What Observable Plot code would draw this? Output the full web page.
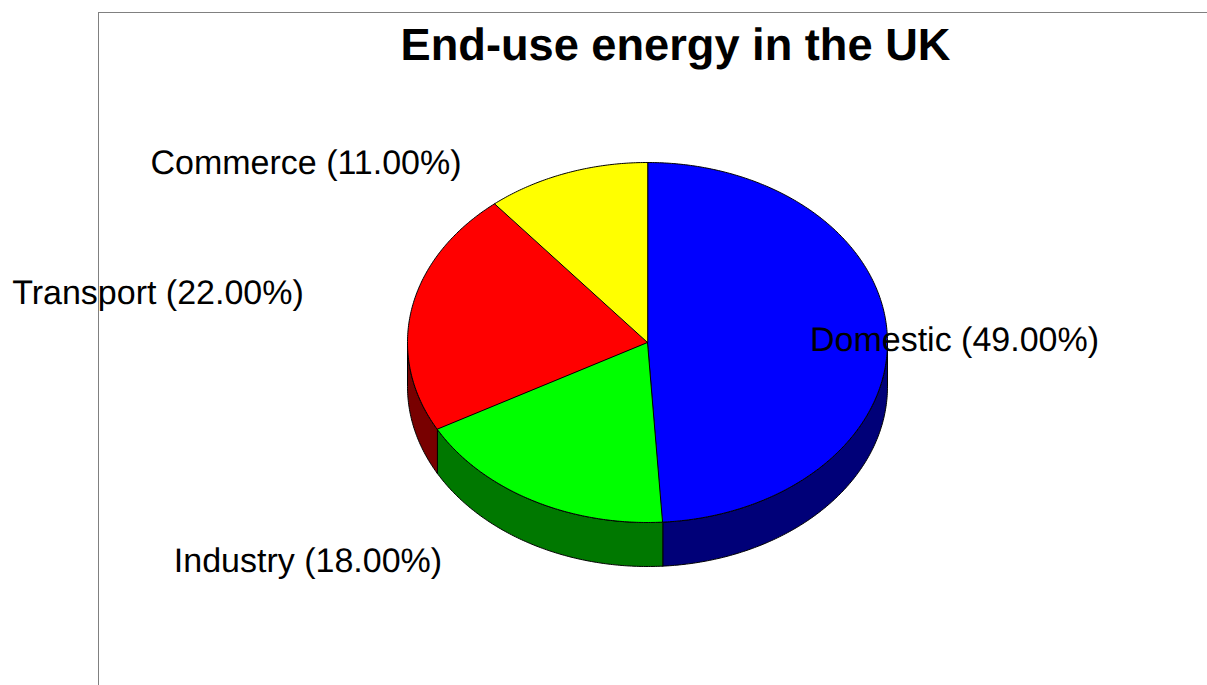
<!DOCTYPE html>
<html><head><meta charset="utf-8">
<script src="https://cdn.jsdelivr.net/npm/d3@7"></script>
<script src="https://cdn.jsdelivr.net/npm/@observablehq/plot@0.6"></script>
<style>
html,body{margin:0;padding:0;background:#fff;overflow:hidden}
#wrap{position:relative;width:1207px;height:685px;text-rendering:geometricPrecision}
#title{position:absolute;left:0;width:1351px;top:18px;text-align:center;font:bold 45.2px "Liberation Sans",Arial,sans-serif;line-height:54px;color:#000}
svg text{text-rendering:geometricPrecision}
</style></head><body>
<div id="wrap"><div id="title"></div><div id="chart"></div></div>
<script>
const chartTitle = "End-use energy in the UK";
const categories = ["Domestic","Industry","Transport","Commerce"];
const shares = [49,18,22,11];
const topColors = ["#0000ff","#00ff00","#ff0000","#ffff00"];
const sideColors = ["#000078","#007800","#780000","#787800"];

// pie geometry, in page pixels
const W = 1207, H = 685, cx = 647, cy = 342, rx = 240, ry = 180, depth = 44;
const labelAnchors = [[954,339.5],[307.5,561],[157.5,293],[305.5,162.5]];

document.getElementById("title").textContent = chartTitle;

const total = d3.sum(shares);
const pt = (a, dy = 0) => ({x: cx + rx*Math.sin(a), y: cy - ry*Math.cos(a) + dy});
let acc = 0;
const slices = categories.map((name,i) => {
  const a0 = acc/total*2*Math.PI; acc += shares[i];
  const a1 = acc/total*2*Math.PI;
  return {name, i, a0, a1, share: shares[i]};
});
const arcPts = (a0,a1,dy=0) => {
  const n = Math.max(2, Math.ceil((a1-a0)/0.01)), out = [];
  for (let k=0;k<=n;k++) out.push(pt(a0+(a1-a0)*k/n,dy));
  return out;
};
const rows = [];
// visible side walls: the front half, from angle pi/2 to 3pi/2
slices.forEach(s => {
  const a0 = Math.max(s.a0, Math.PI/2), a1 = Math.min(s.a1, 3*Math.PI/2);
  if (a1 <= a0) return;
  const outline = [...arcPts(a0,a1,0), ...arcPts(a0,a1,depth).reverse()];
  outline.forEach(p => rows.push({...p, key:"side"+s.i, color:sideColors[s.i]}));
});
slices.forEach(s => {
  const outline = [{x:cx,y:cy}, ...arcPts(s.a0,s.a1)];
  outline.forEach(p => rows.push({...p, key:"top"+s.i, color:topColors[s.i]}));
});
const labels = slices.map((s,i) => ({
  text: `${s.name} (${s.share.toFixed(2)}%)`,
  x: labelAnchors[i][0], y: labelAnchors[i][1]
}));

const chart = Plot.plot({
  width: W, height: H, margin: 0,
  x: {domain:[0,W], range:[0,W], axis:null},
  y: {domain:[0,H], range:[0,H], axis:null},
  style: {background:"transparent"},
  marks: [
    Plot.ruleY([12],{x1:98,x2:W,stroke:"#808080",strokeWidth:1}),
    Plot.ruleX([98],{y1:12,y2:H,stroke:"#808080",strokeWidth:1}),
    Plot.line(rows,{x:"x",y:"y",z:"key",fill:"color",stroke:"#000",strokeWidth:1,curve:"linear-closed",strokeLinejoin:"round"}),
    Plot.text(labels,{x:"x",y:"y",text:"text",fontSize:34,fill:"#000",fontFamily:"'Liberation Sans',Arial,sans-serif"})
  ]
});
document.getElementById("chart").appendChild(chart);
</script>
</body></html>
